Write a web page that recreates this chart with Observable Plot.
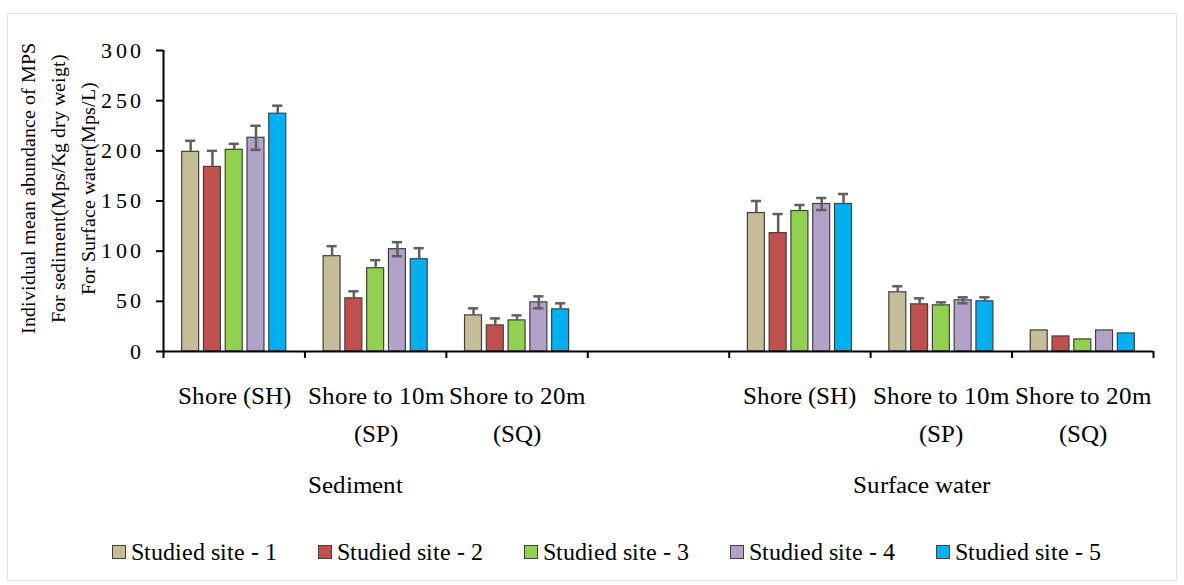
<!DOCTYPE html>
<html>
<head>
<meta charset="utf-8">
<script src="https://cdn.jsdelivr.net/npm/d3@7"></script>
<script src="https://cdn.jsdelivr.net/npm/@observablehq/plot@0.6"></script>
<style>
  @font-face { font-family: "RefSerif"; src: local("Liberation Serif"), local("LiberationSerif"), local("LiberationSerif-Regular"), local("DejaVu Serif"), local("DejaVuSerif"), local("Times New Roman"), local("Tinos"); }
  html, body { margin: 0; padding: 0; background: #fff; }
  #wrap { position: relative; width: 1184px; height: 585px; overflow: hidden; font-family: "RefSerif", "Liberation Serif", serif; color: #000; }
  #border { position: absolute; left: 7px; top: 13px; width: 1168px; height: 566px; border: 1px solid #e3e3e3; pointer-events: none; }
  #chart { position: absolute; left: 0; top: 0; }
  #legend { position: absolute; left: 112px; top: 537px; display: flex; gap: 41px; align-items: center; font-size: 24px; line-height: 30px; white-space: nowrap; }
  .item { display: flex; align-items: center; gap: 5px; }
  .sw { width: 12px; height: 12px; border: 1px solid #404040; display: inline-block; }
  #chart svg text { font-family: "RefSerif", "Liberation Serif", serif; }
</style>
</head>
<body>
<div id="wrap">
  <div id="border"></div>
  <div id="chart"></div>
  <div id="legend"></div>
</div>
<script>
// ---- Data ----
const sites = ["Studied site - 1", "Studied site - 2", "Studied site - 3", "Studied site - 4", "Studied site - 5"];
const siteColors = ["#C4BD97", "#C0504D", "#92D050", "#B2A2C7", "#00B0F0"];
const categories = ["Shore (SH)", "Shore to 10m\n(SP)", "Shore to 20m\n(SQ)"];
const groups = ["Sediment", "Surface water"];
// values per category (rows) and site (columns)
const sedimentValues = [[199, 184, 201, 213, 237], [95, 53, 83, 102, 92], [36, 26, 31, 49, 42]];
const sedimentErrors = [[11, 16, 6, 12, 8], [10, 7, 8, 7, 11], [7, 7, 5, 6, 6]];
const waterValues = [[138, 118, 140, 147, 147], [59, 47, 46, 51, 50], [21, 15, 12, 21, 18]];
const waterErrors = [[12, 19, 6, 6, 10], [6, 6, 3, 3, 4], [0, 0, 0, 0, 0]];
const yTicks = [0, 50, 100, 150, 200, 250, 300];
const yTitle = "Individual mean abundance of MPS\nFor sediment(Mps/Kg dry weigt)\nFor Surface water(Mps/L)";

// ---- Build table ----
const groupValues = [sedimentValues, waterValues];
const groupErrors = [sedimentErrors, waterErrors];
const slotsPerGroup = categories.length + 1; // one empty slot between groups
const nSlots = groups.length * slotsPerGroup - 1;
const rows = [];
groups.forEach((g, gi) => {
  categories.forEach((c, ci) => {
    sites.forEach((s, si) => {
      rows.push({
        group: g, category: c, site: s, si,
        slot: gi * slotsPerGroup + ci,
        value: groupValues[gi][ci][si],
        error: groupErrors[gi][ci][si],
        both: si === 3
      });
    });
  });
});
const labelRows = [];
groups.forEach((g, gi) => categories.forEach((c, ci) => labelRows.push({label: c, slot: gi * slotsPerGroup + ci})));
const groupRows = groups.map((g, gi) => ({label: g, slot: gi * slotsPerGroup + (categories.length - 1) / 2}));

// layout within a category slot (fractions of a slot)
const step = 0.154, barW = 0.12, capHalf = 0.036;
const cx = d => d.slot + 0.5 + (d.si - (sites.length - 1) / 2) * step;
const errRows = rows.filter(d => d.error > 0);
const serif = "RefSerif, 'Liberation Serif', serif";

const chart = Plot.plot({
  width: 1184,
  height: 525,
  marginLeft: 163,
  marginRight: 31,
  marginTop: 50,
  marginBottom: 174,
  x: {domain: [0, nSlots], axis: null},
  y: {domain: [0, 300], axis: null},
  color: {domain: sites, range: siteColors},
  style: {fontFamily: serif, color: "#000", background: "transparent", overflow: "visible"},
  marks: [
    Plot.rectY(rows, {x1: d => cx(d) - barW / 2, x2: d => cx(d) + barW / 2, y: "value", fill: "site", stroke: "#404040", strokeWidth: 1.2}),
    Plot.ruleX(errRows, {x: cx, y1: d => d.both ? d.value - d.error : d.value, y2: d => d.value + d.error, stroke: "#5f5f5f", strokeWidth: 2.5}),
    Plot.ruleY(errRows, {y: d => d.value + d.error, x1: d => cx(d) - capHalf, x2: d => cx(d) + capHalf, stroke: "#5f5f5f", strokeWidth: 2.5}),
    Plot.ruleY(errRows.filter(d => d.both), {y: d => d.value - d.error, x1: d => cx(d) - capHalf, x2: d => cx(d) + capHalf, stroke: "#5f5f5f", strokeWidth: 2.5}),
    Plot.ruleY([0], {stroke: "#000", strokeWidth: 2}),
    Plot.ruleX([0], {stroke: "#000", strokeWidth: 2}),
    Plot.axisY({ticks: yTicks, label: null, tickSize: 7, tickPadding: 12, fontSize: 22, strokeWidth: 2, stroke: "#000"}),
    Plot.axisX({ticks: d3.range(nSlots + 1), label: null, tickSize: 7, tickFormat: () => "", strokeWidth: 2, stroke: "#000"}),
    Plot.text(labelRows, {x: d => d.slot + 0.5, text: "label", frameAnchor: "bottom", dy: 26, lineAnchor: "top", lineHeight: 1.52, fontSize: 25, fill: "#000"}),
    Plot.text(groupRows, {x: d => d.slot + 0.5, text: "label", frameAnchor: "bottom", dy: 141, dx: -20, fontSize: 25, fill: "#000"}),
    Plot.text([yTitle], {frameAnchor: "left", rotate: -90, dx: -108, dy: -13, lineHeight: 1.5, fontSize: 20, textAnchor: "middle", lineAnchor: "middle", fill: "#000"})
  ]
});
d3.select(chart).selectAll("[aria-label='y-axis tick label'] text").style("letter-spacing", "3.5px");
document.getElementById("chart").appendChild(chart);

// legend
const legend = d3.select("#legend");
sites.forEach((s, i) => {
  const it = legend.append("div").attr("class", "item");
  it.append("span").attr("class", "sw").style("background", siteColors[i]);
  it.append("span").text(s);
});
</script>
</body>
</html>
